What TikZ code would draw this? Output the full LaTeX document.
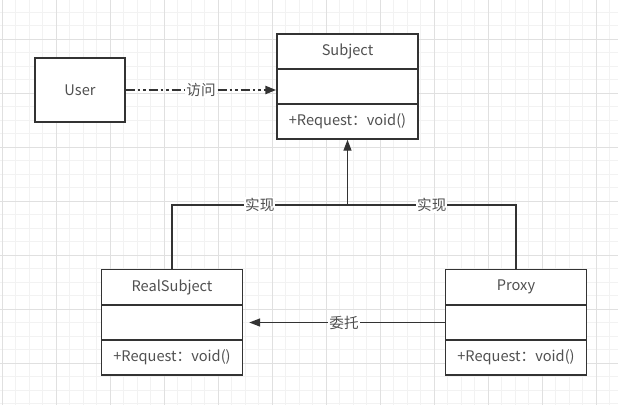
\documentclass[tikz,border=0pt]{standalone}
\usepackage{fontspec}
\setmainfont{Noto Sans CJK SC}
\usetikzlibrary{arrows.meta}

\definecolor{gridminor}{HTML}{F2F2F2}
\definecolor{gridmajor}{HTML}{E0E0E0}
\definecolor{umlline}{HTML}{333333}
\definecolor{umltext}{HTML}{505050}

\tikzset{
    umlfont/.style={font=\fontsize{14.6}{17}\selectfont, text=umltext},
    cell/.style={draw=umlline, line width=1.4pt, fill=white, minimum width=141pt,
        minimum height=35pt, inner sep=0pt, umlfont},
    actor/.style={cell, minimum width=90pt, minimum height=64pt},
    link/.style={draw=umlline, line width=1.4pt},
    tip/.style={-{Triangle[length=11pt,width=8pt]}},
    lbl/.style={fill=white, inner sep=1pt, umlfont},
    visit/.style={link, line width=2.4pt,
        dash pattern=on 9pt off 3pt on 2.5pt off 3pt on 2.5pt off 3pt}
}

\begin{document}
\begin{tikzpicture}[x=1pt, y=-1pt]
    \useasboundingbox (0,0) rectangle (618,405);
    % grid
    \foreach \gx in {2,15.5,...,618} \draw[gridminor, line width=0.7pt] (\gx,0) -- (\gx,405);
    \foreach \gy in {12,25.5,...,405} \draw[gridminor, line width=0.7pt] (0,\gy) -- (618,\gy);
    \foreach \gx in {2,56,...,618} \draw[gridmajor, line width=0.8pt] (\gx,0) -- (\gx,405);
    \foreach \gy in {39,93,...,405} \draw[gridmajor, line width=0.8pt] (0,\gy) -- (618,\gy);

    \node[actor] (user) at (80,90) {User};

    \node[cell] (subj) at (347.5,51.5) {Subject};
    \node[cell] (subjattr) at (347.5,86.5) {};
    \node[cell] (subjop) at (347.5,121.5) {+Request：void()};

    \node[cell] (real) at (172,287) {RealSubject};
    \node[cell] (realattr) at (172,322.5) {};
    \node[cell] (realop) at (172,357.5) {+Request：void()};

    \node[cell] (proxy) at (516,287) {Proxy};
    \node[cell] (proxyattr) at (516,322.5) {};
    \node[cell] (proxyop) at (516,357.5) {+Request：void()};

    \coordinate (fork) at (347.5,205);

    \draw[visit, tip] (user.east) -- node[lbl] {访问} (user.east -| subjattr.west);
    \draw[link] (real.north) |- node[lbl, pos=0.75] {实现} (fork);
    \draw[link] (proxy.north) |- node[lbl, pos=0.75] {实现} (fork);
    \draw[link, tip] (fork) -- (subjop.south);
    \draw[link, tip, shorten >=6pt] (proxyattr.west) -- node[lbl] {委托} (realattr.east);
\end{tikzpicture}
\end{document}
